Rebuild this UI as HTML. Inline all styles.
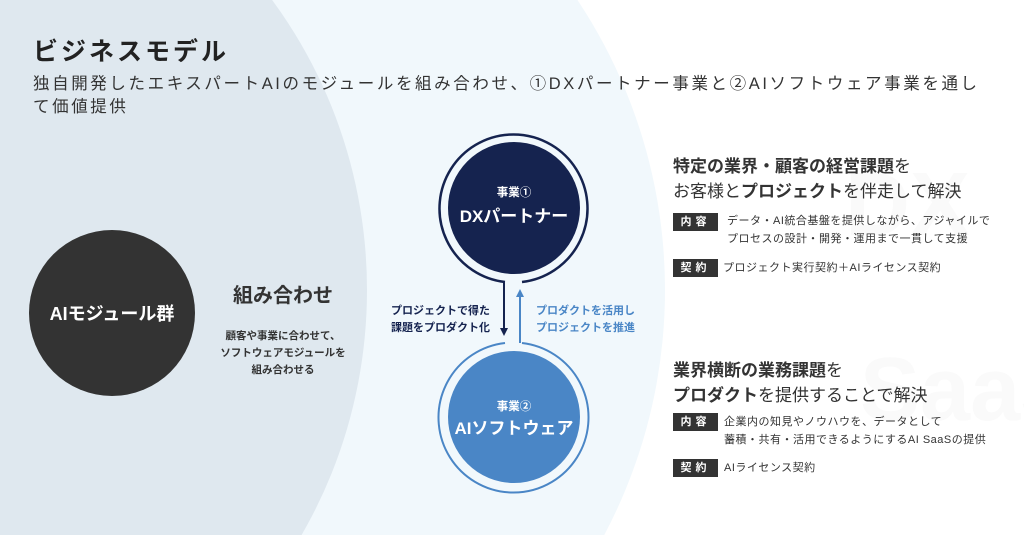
<!DOCTYPE html>
<html><head><meta charset="utf-8"><style>
html,body{margin:0;padding:0;width:1024px;height:535px;overflow:hidden;}
body{background:#fff;position:relative;font-family:"Liberation Sans","Noto Sans CJK JP",sans-serif;}
svg{position:absolute;left:0;top:0;}
.t{position:absolute;white-space:nowrap;color:#333;}
.tag{position:absolute;background:#333;color:#fff;font-size:11px;font-weight:bold;width:45px;height:18px;line-height:18px;text-align:center;letter-spacing:4px;}
.d{position:absolute;font-size:11px;color:#333;line-height:18px;white-space:nowrap;letter-spacing:0.5px;}
</style></head><body>
<svg width="1024" height="535" viewBox="0 0 1024 535" font-family="Liberation Sans, Noto Sans CJK JP, sans-serif">
<ellipse cx="150" cy="290" rx="515" ry="520" fill="#f1f8fc"/>
<ellipse cx="-100" cy="290" rx="467" ry="480" fill="#dfe8ef"/>
<text x="845" y="235" font-size="90" font-weight="bold" fill="#fafafa">DX</text>
<text x="860" y="420" font-size="90" font-weight="bold" fill="#fafafa">SaaS</text>
<circle cx="112" cy="313" r="83" fill="#333"/>
<text x="112" y="320" font-size="18" font-weight="bold" fill="#fff" text-anchor="middle">AIモジュール群</text>
<path d="M505 282 A74 74 0 1 1 522 282" fill="none" stroke="#15234f" stroke-width="2.5"/>
<circle cx="514" cy="208" r="66" fill="#15234f"/>
<text x="514" y="196" font-size="11.5" font-weight="bold" fill="#fff" text-anchor="middle">事業①</text>
<text x="514" y="222" font-size="17" font-weight="bold" fill="#fff" text-anchor="middle">DXパートナー</text>
<path d="M505 343 A75 75 0 1 0 522 343" fill="none" stroke="#4a86c6" stroke-width="2"/>
<circle cx="514" cy="417" r="66" fill="#4a86c6"/>
<text x="514" y="410" font-size="11.5" font-weight="bold" fill="#fff" text-anchor="middle">事業②</text>
<text x="514" y="434" font-size="17" font-weight="bold" fill="#fff" text-anchor="middle">AIソフトウェア</text>
<line x1="504" y1="282" x2="504" y2="330" stroke="#15234f" stroke-width="2"/>
<path d="M500 328 L508 328 L504 336 Z" fill="#15234f"/>
<line x1="520" y1="343" x2="520" y2="295" stroke="#4a86c6" stroke-width="2"/>
<path d="M516 297 L524 297 L520 289 Z" fill="#4a86c6"/>
<text x="490" y="314" font-size="11" font-weight="bold" fill="#15234f" text-anchor="end">プロジェクトで得た</text>
<text x="490" y="331" font-size="11" font-weight="bold" fill="#15234f" text-anchor="end">課題をプロダクト化</text>
<text x="536" y="314" font-size="11" font-weight="bold" fill="#4a86c6">プロダクトを活用し</text>
<text x="536" y="331" font-size="11" font-weight="bold" fill="#4a86c6">プロジェクトを推進</text>
<text x="283" y="302" font-size="20" font-weight="bold" fill="#333" text-anchor="middle">組み合わせ</text>
<text x="283" y="339" font-size="10.5" font-weight="bold" fill="#333" text-anchor="middle">顧客や事業に合わせて、</text>
<text x="283" y="356" font-size="10.5" font-weight="bold" fill="#333" text-anchor="middle">ソフトウェアモジュールを</text>
<text x="283" y="373" font-size="10.5" font-weight="bold" fill="#333" text-anchor="middle">組み合わせる</text>
</svg>
<div class="t" style="left:33px;top:32px;font-size:25px;font-weight:bold;color:#222;letter-spacing:3px;">ビジネスモデル</div>
<div class="t" style="left:33px;top:73px;font-size:16.5px;letter-spacing:2.6px;line-height:23px;">独自開発したエキスパートAIのモジュールを組み合わせ、①DXパートナー事業と②AIソフトウェア事業を通し<br>て価値提供</div>

<div class="t" style="left:673px;top:154px;font-size:17px;line-height:25px;"><b>特定の業界・顧客の経営課題</b>を<br>お客様と<b>プロジェクト</b>を伴走して解決</div>
<div class="tag" style="left:673px;top:213px;">内容</div>
<div class="d" style="left:727px;top:212px;">データ・AI統合基盤を提供しながら、アジャイルで<br>プロセスの設計・開発・運用まで一貫して支援</div>
<div class="tag" style="left:673px;top:259px;">契約</div>
<div class="d" style="left:723px;top:259px;">プロジェクト実行契約＋AIライセンス契約</div>

<div class="t" style="left:673px;top:358px;font-size:17px;line-height:25px;"><b>業界横断の業務課題</b>を<br><b>プロダクト</b>を提供することで解決</div>
<div class="tag" style="left:673px;top:413px;">内容</div>
<div class="d" style="left:724px;top:413px;">企業内の知見やノウハウを、データとして<br>蓄積・共有・活用できるようにするAI SaaSの提供</div>
<div class="tag" style="left:673px;top:459px;">契約</div>
<div class="d" style="left:724px;top:459px;">AIライセンス契約</div>
</body></html>
